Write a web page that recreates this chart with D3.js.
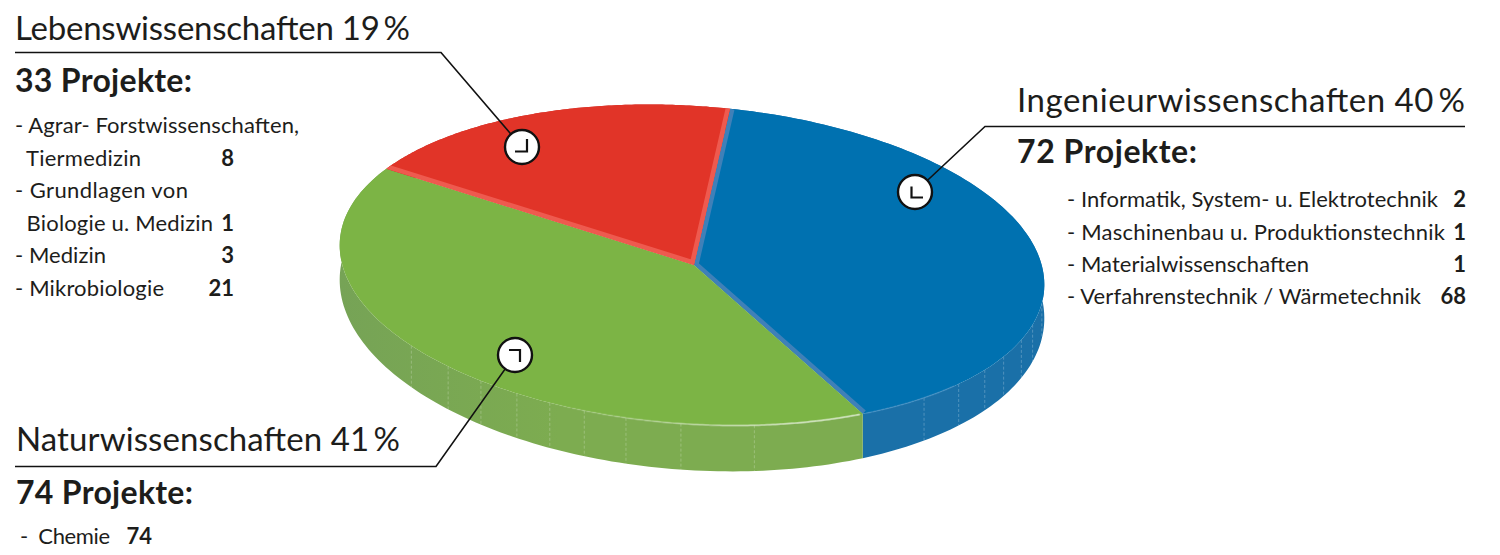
<!DOCTYPE html>
<html>
<head>
<meta charset="utf-8" />
<title>Projekte nach Wissenschaftsbereich</title>
<script src="https://d3js.org/d3.v7.min.js"></script>
<style>
html, body { margin: 0; padding: 0; background: #fff; }
svg { display: block; }
text { font-family: Lato, sans-serif; fill: #1d1d1b; white-space: pre; }
.head { font-size: 33px; }
.count { font-size: 32px; font-weight: 700; }
.item { font-size: 22px; }
.num { font-size: 22px; font-weight: 700; }
</style>
</head>
<body>
<svg id="chart" width="1500" height="555"></svg>
<script>
// data
const categories = ['Ingenieurwissenschaften', 'Naturwissenschaften', 'Lebenswissenschaften'];
const shares = [40, 41, 19];
const projects = [72, 74, 33];
const ingItems = ['- Informatik, System- u. Elektrotechnik', '- Maschinenbau u. Produktionstechnik', '- Materialwissenschaften', '- Verfahrenstechnik / Wärmetechnik'];
const ingCounts = [2, 1, 1, 68];
const natItems = ['-  Chemie'];
const natCounts = [74];
const lebItems = ['- Agrar- Forstwissenschaften,', '  Tiermedizin', '- Grundlagen von', '  Biologie u. Medizin', '- Medizin', '- Mikrobiologie'];
const lebCounts = [null, 8, null, 1, 3, 21];

const topColors = ['#0071b0', '#7cb445', '#e13428'];
const wallColors = ['#1a70a8', '#7dac50', '#c9302a'];
const stripColors = ['#3f80b8', null, '#ee5a4f'];

const svg = d3.select('#chart');
const defs = svg.append('defs');

// tilted ellipse, wall gets taller towards the viewer
const cx = 692, cy = 265, rx = 353, ry = 159, tilt = 4 * Math.PI / 180;
const hub = [694, 265];
const rad = d => d * Math.PI / 180;
const rim = a => {
    const x = rx * Math.sin(a), y = -ry * Math.cos(a);
    return [cx + x * Math.cos(tilt) - y * Math.sin(tilt), cy + x * Math.sin(tilt) + y * Math.cos(tilt)];
};
const foot = a => {
    const p = rim(a);
    return [p[0], p[1] + 34 - 12 * Math.cos(a)];
};
const line = d3.line();
const steps = (a0, a1) => d3.range(0, 121).map(i => a0 + (a1 - a0) * i / 120);

const slices = d3.pie().sort(null)
    .startAngle(rad(4.4))
    .endAngle(rad(364.4))(projects);

const wallGrad = defs.append('linearGradient').attr('id', 'wallShade')
    .attr('gradientUnits', 'userSpaceOnUse')
    .attr('x1', 339).attr('x2', 560).attr('y1', 0).attr('y2', 0);
wallGrad.append('stop').attr('offset', 0).attr('stop-color', '#76a356');
wallGrad.append('stop').attr('offset', 1).attr('stop-color', wallColors[1]);

// walls
slices.forEach((s, i) => {
    const top = steps(s.startAngle, s.endAngle).map(rim);
    const bottom = steps(s.endAngle, s.startAngle).map(foot);
    svg.append('path').attr('d', line(top.concat(bottom)) + 'Z')
        .attr('fill', i === 1 ? 'url(#wallShade)' : wallColors[i]);
});

// dashed seams on the wall
const seamAngles = [95, 103, 109, 116, 122, 129, 137, 168, 180, 189, 196, 202, 208, 215, 222, 231];
seamAngles.forEach(d => {
    const p = rim(rad(d)), q = foot(rad(d));
    svg.append('line').attr('x1', p[0]).attr('y1', p[1]).attr('x2', q[0]).attr('y2', q[1])
        .attr('stroke', '#fff').attr('stroke-opacity', 0.3).attr('stroke-width', 0.8)
        .attr('stroke-dasharray', '3 2');
});

// top faces
slices.forEach((s, i) => {
    const pts = [hub].concat(steps(s.startAngle, s.endAngle).map(rim));
    const d = line(pts) + 'Z';
    defs.append('clipPath').attr('id', 'slice' + i).append('path').attr('d', d);
    svg.append('path').attr('d', d).attr('fill', topColors[i]);
    if (stripColors[i]) {
        const edge = line([rim(s.startAngle), hub, rim(s.endAngle)]);
        svg.append('path').attr('d', edge).attr('fill', 'none')
            .attr('clip-path', 'url(#slice' + i + ')')
            .attr('stroke', stripColors[i]).attr('stroke-width', 9);
    }
});

// light rim on the front
const glow = defs.append('linearGradient').attr('id', 'glow')
    .attr('gradientUnits', 'userSpaceOnUse')
    .attr('x1', 540).attr('x2', 800).attr('y1', 0).attr('y2', 0);
glow.append('stop').attr('offset', 0).attr('stop-color', '#fff').attr('stop-opacity', 0);
glow.append('stop').attr('offset', 1).attr('stop-color', '#fff').attr('stop-opacity', 0.5);
svg.append('path')
    .attr('d', line(steps(slices[1].startAngle + 0.01, rad(205)).map(rim)))
    .attr('fill', 'none').attr('stroke', 'url(#glow)').attr('stroke-width', 2);
svg.append('path')
    .attr('d', line(steps(rad(130), slices[0].endAngle - 0.01).map(rim)))
    .attr('fill', 'none').attr('stroke', '#4d93c4').attr('stroke-opacity', 0.6).attr('stroke-width', 1.5);

// leader lines with dial markers
const callouts = [
    { pts: [[1465, 126.5], [985, 126.5], [915, 192]], c: [915, 192], tick: 'M-3.5 -5.5V5.5H8' },
    { pts: [[15, 466.5], [436, 466.5], [515, 355]], c: [515, 355], tick: 'M-6 -5H5V7' },
    { pts: [[15, 52.5], [441, 52.5], [522, 147]], c: [522, 147], tick: 'M-7 4.5H5V-8' }
];
callouts.forEach(o => {
    svg.append('path').attr('d', line(o.pts)).attr('fill', 'none')
        .attr('stroke', '#111').attr('stroke-width', 1.6);
    const g = svg.append('g').attr('transform', `translate(${o.c})`);
    g.append('circle').attr('r', 17).attr('fill', '#fff').attr('stroke', '#111').attr('stroke-width', 2.4);
    g.append('path').attr('d', o.tick).attr('fill', 'none').attr('stroke', '#111').attr('stroke-width', 2.2);
});

// text blocks, widths fitted to the original typeface
const blocks = [
    { x: 1017, headY: 112, headW: 448, countY: 163, countW: 180, itemX: 1067, numX: 1466, ys: [207, 240, 272, 304], widths: [371, 378, 242, 354], items: ingItems, counts: ingCounts },
    { x: 16, headY: 451, headW: 384, countY: 504, countW: 177, itemX: 20, numX: 152, ys: [544], widths: [90], items: natItems, counts: natCounts },
    { x: 15, headY: 40, headW: 395, countY: 92, countW: 177, itemX: 15, numX: 234, ys: [133, 166, 198, 231, 263, 296], widths: [284, 126, 173, 198, 91, 149], items: lebItems, counts: lebCounts }
];
blocks.forEach((b, i) => {
    svg.append('text').attr('class', 'head').attr('x', b.x).attr('y', b.headY)
        .attr('textLength', b.headW)
        .text(`${categories[i]} ${shares[i]}\u2009%`);
    svg.append('text').attr('class', 'count').attr('x', b.x).attr('y', b.countY)
        .attr('textLength', b.countW)
        .text(`${projects[i]} Projekte:`);
    b.items.forEach((t, j) => {
        svg.append('text').attr('class', 'item')
            .attr('x', b.itemX).attr('y', b.ys[j])
            .attr('textLength', b.widths[j]).text(t);
        if (b.counts[j] !== null) {
            svg.append('text').attr('class', 'num').attr('text-anchor', 'end')
                .attr('x', b.numX).attr('y', b.ys[j]).text(b.counts[j]);
        }
    });
});
</script>
</body>
</html>
